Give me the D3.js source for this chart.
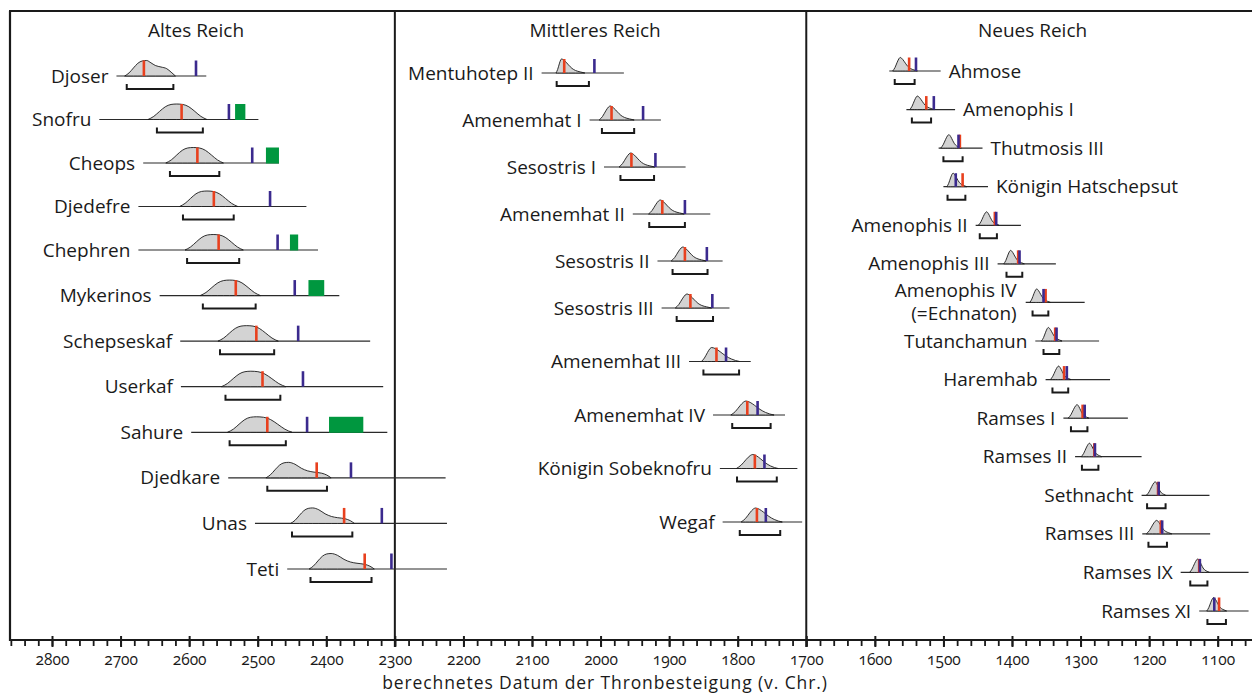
<!DOCTYPE html>
<html>
<head>
<meta charset="utf-8">
<script src="https://cdn.jsdelivr.net/npm/d3@7/dist/d3.min.js"></script>
<style>
  html, body { margin: 0; padding: 0; background: #ffffff; }
  svg text { font-family: "Open Sans", "Noto Sans", sans-serif; fill: #1a1a1a; font-variant-numeric: oldstyle-nums; }
</style>
</head>
<body>
<svg id="chart" width="1252" height="695"></svg>
<script>
// ---- Kings per kingdom (top to bottom in each panel) ----
const panelTitles = ["Altes Reich", "Mittleres Reich", "Neues Reich"];
const altesReich = ["Djoser", "Snofru", "Cheops", "Djedefre", "Chephren", "Mykerinos",
  "Schepseskaf", "Userkaf", "Sahure", "Djedkare", "Unas", "Teti"];
const mittleresReich = ["Mentuhotep II", "Amenemhat I", "Sesostris I", "Amenemhat II",
  "Sesostris II", "Sesostris III", "Amenemhat III", "Amenemhat IV", "Königin Sobeknofru", "Wegaf"];
const neuesReich = ["Ahmose", "Amenophis I", "Thutmosis III", "Königin Hatschepsut",
  "Amenophis II", "Amenophis III", "Amenophis IV|(=Echnaton)", "Tutanchamun", "Haremhab",
  "Ramses I", "Ramses II", "Sethnacht", "Ramses III", "Ramses IX", "Ramses XI"];
const labelsOnRight = ["Ahmose", "Amenophis I", "Thutmosis III", "Königin Hatschepsut"];

// ---- Dates in years BC, listed in the same order as the kings above ----
// extent of the thin guide line of each row
const guideLine = [
  [2706, 2575], [2731, 2499], [2667, 2469], [2674, 2429], [2674, 2412], [2643, 2381],
  [2613, 2336], [2612, 2317], [2597, 2311], [2543, 2226], [2504, 2224], [2457, 2224],
  [2086, 1966], [2016, 1912], [1995, 1876], [1953, 1840], [1917, 1822], [1911, 1812],
  [1871, 1781], [1836, 1731], [1826, 1713], [1822, 1706],
  [1579, 1504], [1554, 1483], [1507, 1443], [1500, 1435], [1453, 1387], [1421, 1336],
  [1380, 1294], [1366, 1273], [1351, 1257], [1325, 1231], [1308, 1211], [1211, 1112],
  [1210, 1111], [1154, 1055], [1127, 1055]
];
// modelled accession distribution: [start, mode, end]
const accessionDensity = [
  [2694, 2662, 2620], [2660, 2618, 2574], [2634, 2594, 2550], [2614, 2574, 2529],
  [2606, 2565, 2521], [2584, 2541, 2496], [2558, 2516, 2470], [2553, 2510, 2459],
  [2544, 2502, 2450], [2488, 2455, 2393], [2452, 2420, 2359], [2425, 2393, 2330],
  [2065, 2057, 2023], [2002, 1986, 1951], [1973, 1956, 1921], [1930, 1913, 1878],
  [1897, 1880, 1846], [1891, 1874, 1838], [1853, 1838, 1797], [1810, 1788, 1747],
  [1802, 1778, 1741], [1795, 1774, 1735],
  [1574, 1563, 1538], [1549, 1538, 1513], [1504, 1492, 1474], [1495, 1486, 1466],
  [1449, 1437, 1419], [1412, 1402, 1382], [1374, 1364, 1344], [1357, 1347, 1327],
  [1344, 1332, 1314], [1318, 1305, 1288], [1299, 1287, 1269], [1204, 1191, 1176],
  [1204, 1189, 1167], [1141, 1129, 1112], [1116, 1106, 1087]
];
// outline type of each distribution
const densityShape = [
  "plateau", "bell", "bell", "bell", "bell", "bell", "bell", "bell", "bell",
  "shoulder", "shoulder", "shoulder",
  "skew", "skew", "skew", "skew", "skew", "skew", "broad", "broad", "broad", "broad",
  "skew", "skew", "skew", "skew", "skew", "skew", "skew", "skew", "skew", "skew",
  "skew", "skew", "skew", "skew", "skew"
];
// 95 % range of the modelled date
const range95 = [
  [2691, 2623], [2647, 2580], [2628, 2556], [2609, 2535], [2603, 2527], [2580, 2503],
  [2555, 2476], [2547, 2467], [2541, 2459], [2486, 2399], [2450, 2362], [2423, 2334],
  [2064, 2017], [1998, 1951], [1971, 1922], [1929, 1877], [1895, 1844], [1889, 1836],
  [1850, 1798], [1808, 1752], [1801, 1743], [1797, 1738],
  [1571, 1542], [1546, 1518], [1500, 1472], [1494, 1468], [1447, 1422], [1408, 1385],
  [1370, 1347], [1354, 1331], [1341, 1318], [1314, 1290], [1298, 1274], [1203, 1176],
  [1201, 1174], [1140, 1115], [1115, 1088]
];
// median of the modelled date (red)
const modelledDate = [
  2666, 2611, 2588, 2564, 2557, 2532, 2502, 2493, 2486, 2414, 2374, 2344,
  2053, 1984, 1955, 1910, 1877, 1869, 1831, 1786, 1775, 1772,
  1550, 1525, 1476, 1472, 1425, 1391, 1351, 1337, 1324, 1297, 1280, 1187, 1183, 1127, 1098
];
// conventional historical date (blue)
const historicalDate = [
  2590, 2542, 2508, 2482, 2471, 2446, 2441, 2434, 2428, 2364, 2319, 2305,
  2009, 1938, 1920, 1877, 1845, 1837, 1817, 1771, 1761, 1759,
  1540, 1514, 1478, 1482, 1423, 1389, 1354, 1335, 1320, 1294, 1279, 1186, 1181, 1126, 1105
];
// earlier radiocarbon dating of the pyramids (green)
const pyramidDating = [
  null, [2533, 2518], [2488, 2469], null, [2453, 2441], [2426, 2403],
  null, null, [2396, 2346], null, null, null
];

// axis ticks
const axisStart = 2860, axisEnd = 1060, minorStep = 20, majorStep = 100;
const panelBreaks = [2300, 1700];
const axisTitle = "berechnetes Datum der Thronbesteigung (v. Chr.)";

// ---- layout ----
const svg = d3.select("#chart");
const x = d3.scaleLinear().domain([2800, 1100]).range([52, 1217.7]);
const frameTop = 11, frameLeft = 10, axisY = 640, rightEdge = 1252;

const panelKings = [altesReich, mittleresReich, neuesReich];
// vertical row placement per panel (polylinear where the spacing widens)
const rowScales = [
  d3.scaleLinear().domain([0, 4, altesReich.length - 1]).range([76, 250, 569]),
  d3.scaleLinear().domain([0, 5, mittleresReich.length - 1]).range([73, 308, 522]),
  d3.scaleLinear().domain([0, neuesReich.length - 1]).range([71, 611])
];
const peakHeight = [15.5, 14, 13.5];

// outline profiles: rise (start -> mode) and fall (mode -> end), [fraction, relative height]
const bellRise = [[0, 0], [0.2, 0.2], [0.4, 0.52], [0.6, 0.82], [0.8, 0.97], [1, 1]];
const steepRise = [[0, 0], [0.3, 0.25], [0.6, 0.65], [0.85, 0.93], [1, 1]];
const profiles = {
  bell:     { rise: bellRise, fall: [[0, 1], [0.2, 0.97], [0.4, 0.82], [0.6, 0.52], [0.8, 0.2], [1, 0]] },
  plateau:  { rise: bellRise, fall: [[0, 1], [0.15, 0.85], [0.3, 0.68], [0.5, 0.58], [0.7, 0.47], [0.85, 0.25], [1, 0]] },
  shoulder: { rise: bellRise, fall: [[0, 1], [0.15, 0.88], [0.3, 0.62], [0.45, 0.45], [0.6, 0.37], [0.78, 0.3], [0.9, 0.18], [1, 0]] },
  skew:     { rise: steepRise, fall: [[0, 1], [0.15, 0.85], [0.3, 0.58], [0.45, 0.33], [0.6, 0.18], [0.8, 0.08], [1, 0]] },
  broad:    { rise: steepRise, fall: [[0, 1], [0.15, 0.9], [0.3, 0.7], [0.5, 0.4], [0.7, 0.18], [0.85, 0.07], [1, 0]] }
};

const colors = { modelled: "#e8401e", historical: "#3b2a8e", pyramid: "#00973f", density: "#d3d3d3", ink: "#1a1a1a" };

// flatten kings into rows with their panel and row position
const rows = [];
panelKings.forEach((list, p) => list.forEach((name, i) => rows.push({ name, panel: p, y: rowScales[p](i) })));
rows.forEach((r, k) => {
  r.line = guideLine[k];
  r.density = accessionDensity[k];
  r.shape = densityShape[k];
  r.range = range95[k];
  r.modelled = modelledDate[k];
  r.historical = historicalDate[k];
  r.pyramid = k < pyramidDating.length ? pyramidDating[k] : null;
  r.h = peakHeight[r.panel];
});

// ---- frame and panel dividers ----
svg.append("line").attr("x1", frameLeft - 1).attr("x2", rightEdge).attr("y1", frameTop).attr("y2", frameTop)
  .attr("stroke", colors.ink).attr("stroke-width", 2.2);
svg.append("line").attr("x1", frameLeft).attr("x2", frameLeft).attr("y1", frameTop).attr("y2", axisY + 1)
  .attr("stroke", colors.ink).attr("stroke-width", 2.2);
svg.selectAll("line.divider").data(panelBreaks).join("line").attr("class", "divider")
  .attr("x1", d => x(d)).attr("x2", d => x(d)).attr("y1", frameTop).attr("y2", axisY + 7)
  .attr("stroke", colors.ink).attr("stroke-width", 2);

// ---- panel titles ----
const titleYears = [2590, 2008, 1370];
svg.selectAll("text.panel-title").data(panelTitles).join("text").attr("class", "panel-title")
  .attr("x", (d, i) => x(titleYears[i])).attr("y", 37)
  .attr("text-anchor", "middle").attr("font-size", 19).text(d => d);

// ---- rows ----
const g = svg.append("g");
const rowG = g.selectAll("g.row").data(rows).join("g").attr("class", "row");

// guide line
rowG.append("line")
  .attr("x1", d => x(d.line[0])).attr("x2", d => x(d.line[1]))
  .attr("y1", d => d.y).attr("y2", d => d.y)
  .attr("stroke", "#2a2a2a").attr("stroke-width", 1.2);

// distribution of the modelled accession date
const outline = d => {
  const [lo, mode, hi] = d.density;
  const prof = profiles[d.shape];
  const pts = prof.rise.map(([u, v]) => [lo + (mode - lo) * u, v])
    .concat(prof.fall.slice(1).map(([t, v]) => [mode + (hi - mode) * t, v]));
  return d3.area()
    .x(p => x(p[0]))
    .y0(d.y)
    .y1(p => d.y - p[1] * d.h)
    .curve(d3.curveMonotoneX)(pts);
};
rowG.append("path")
  .attr("d", outline)
  .attr("fill", colors.density)
  .attr("stroke", colors.ink).attr("stroke-width", 0.9);

// green: earlier pyramid dating
rowG.filter(d => d.pyramid).append("rect")
  .attr("x", d => x(d.pyramid[0])).attr("width", d => x(d.pyramid[1]) - x(d.pyramid[0]))
  .attr("y", d => d.y - d.h).attr("height", d => d.h + 0.5)
  .attr("fill", colors.pyramid);

// red: modelled date
rowG.append("line")
  .attr("x1", d => x(d.modelled)).attr("x2", d => x(d.modelled))
  .attr("y1", d => d.y - d.h).attr("y2", d => d.y)
  .attr("stroke", colors.modelled).attr("stroke-width", 2.6);

// blue: conventional historical date
rowG.append("line")
  .attr("x1", d => x(d.historical)).attr("x2", d => x(d.historical))
  .attr("y1", d => d.y - d.h).attr("y2", d => d.y)
  .attr("stroke", colors.historical).attr("stroke-width", 2.6);

// bracket: 95 % range
rowG.append("path")
  .attr("d", d => {
    const a = x(d.range[0]), b = x(d.range[1]), yb = d.y + 13;
    return `M${a},${yb - 5}V${yb}H${b}V${yb - 5}`;
  })
  .attr("fill", "none").attr("stroke", colors.ink).attr("stroke-width", 2);

// king names
rowG.each(function (d) {
  const right = labelsOnRight.includes(d.name);
  const lines = d.name.split("|");
  const t = d3.select(this).append("text")
    .attr("font-size", 19)
    .attr("text-anchor", right ? "start" : "end");
  const tx = right ? x(d.line[1]) + 8 : x(d.line[0]) - 8;
  if (lines.length === 1) {
    t.attr("x", tx).attr("y", d.y + 6.5).text(d.name);
  } else {
    lines.forEach((s, i) => t.append("tspan").attr("x", tx - 1).attr("y", d.y - 5 + i * 22.5).text(s));
  }
});

// ---- axis ----
const allTicks = d3.range(axisStart, axisEnd - 1, -minorStep);
const majorTicks = allTicks.filter(v => v % majorStep === 0 && v <= 2800 && v >= 1100);

svg.append("line").attr("x1", frameLeft - 1).attr("x2", rightEdge).attr("y1", axisY).attr("y2", axisY)
  .attr("stroke", colors.ink).attr("stroke-width", 2.2);

const minorAxis = d3.axisBottom(x).tickValues(allTicks).tickSize(6).tickFormat("");
const minorG = svg.append("g").attr("transform", `translate(0,${axisY})`).call(minorAxis);
minorG.select(".domain").remove();
minorG.selectAll(".tick line").attr("stroke", colors.ink).attr("stroke-width", 1.8);

const majorAxis = d3.axisBottom(x).tickValues(majorTicks).tickSize(7).tickPadding(6.5).tickFormat(d3.format("d"));
const majorG = svg.append("g").attr("transform", `translate(0,${axisY})`).call(majorAxis);
majorG.select(".domain").remove();
majorG.selectAll(".tick line").attr("y1", -4).attr("stroke", colors.ink).attr("stroke-width", 2);
majorG.selectAll(".tick text").attr("font-size", 15.5).attr("fill", colors.ink)
  .attr("font-family", "\"Open Sans\", \"Noto Sans\", sans-serif");

svg.append("text").attr("x", 605).attr("y", 688.5).attr("text-anchor", "middle")
  .attr("font-size", 17.5).attr("letter-spacing", 0.9).text(axisTitle);
</script>
</body>
</html>
